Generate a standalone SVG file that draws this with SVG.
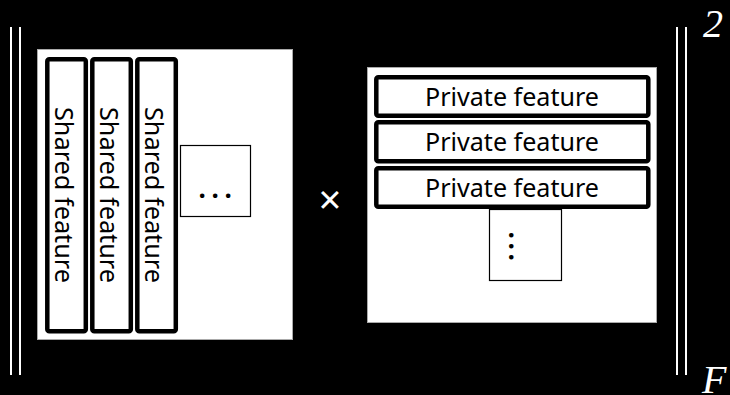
<svg xmlns="http://www.w3.org/2000/svg" width="730" height="395" viewBox="0 0 730 395">
  <style>
    .bar { stroke: #fff; stroke-width: 2; }
    .panel { fill: #fff; stroke: #aaa; stroke-width: 1; }
    .feat { fill: #fff; stroke: #000; stroke-width: 4.5; }
    .more { fill: #fff; stroke: #000; stroke-width: 1.2; }
    .lbl { font-family: "Noto Sans", "Open Sans", sans-serif; font-size: 25px; fill: #000; }
    .dots { font-family: "Noto Sans", sans-serif; font-size: 26px; font-weight: bold; fill: #000; }
    .math { font-family: "Liberation Serif", serif; font-style: italic; font-size: 40px; fill: #fff; }
  </style>
  <rect width="730" height="395" fill="#000"/>

  <!-- norm bars -->
  <g id="norm-left">
    <line class="bar" x1="11" y1="27" x2="11" y2="375"/>
    <line class="bar" x1="20" y1="27" x2="20" y2="375"/>
  </g>
  <g id="norm-right">
    <line class="bar" x1="677" y1="27" x2="677" y2="375"/>
    <line class="bar" x1="686" y1="27" x2="686" y2="375"/>
  </g>
  <text id="exp" class="math" x="703" y="37">2</text>
  <text id="sub" class="math" x="702" y="393">F</text>

  <!-- shared features matrix -->
  <g id="shared-matrix">
    <rect class="panel" x="37.5" y="49.5" width="255" height="290"/>
    <g id="shared-1">
      <rect class="feat" x="47.3" y="59.3" width="38.5" height="272" rx="2"/>
      <text class="lbl" transform="translate(55,195) rotate(90)" text-anchor="middle" textLength="176" lengthAdjust="spacingAndGlyphs">Shared feature</text>
    </g>
    <g id="shared-2">
      <rect class="feat" x="92.3" y="59.3" width="38.5" height="272" rx="2"/>
      <text class="lbl" transform="translate(100,195) rotate(90)" text-anchor="middle" textLength="176" lengthAdjust="spacingAndGlyphs">Shared feature</text>
    </g>
    <g id="shared-3">
      <rect class="feat" x="137.3" y="59.3" width="38.5" height="272" rx="2"/>
      <text class="lbl" transform="translate(145,195) rotate(90)" text-anchor="middle" textLength="176" lengthAdjust="spacingAndGlyphs">Shared feature</text>
    </g>
    <g id="shared-more">
      <rect class="more" x="180.5" y="145.5" width="70" height="71"/>
      <text class="dots" x="198.5 211.5 224.5" y="197.5">...</text>
    </g>
  </g>

  <text id="times" x="330" y="214" text-anchor="middle" font-family="Noto Sans, sans-serif" font-size="40" fill="#fff">×</text>

  <!-- private features matrix -->
  <g id="private-matrix">
    <rect class="panel" x="367.5" y="67.5" width="289" height="255"/>
    <g id="private-1">
      <rect class="feat" x="376.3" y="77.3" width="272" height="38.5" rx="2"/>
      <text class="lbl" x="512" y="106" text-anchor="middle" textLength="174" lengthAdjust="spacingAndGlyphs">Private feature</text>
    </g>
    <g id="private-2">
      <rect class="feat" x="376.3" y="122.3" width="272" height="39" rx="2"/>
      <text class="lbl" x="512" y="151" text-anchor="middle" textLength="174" lengthAdjust="spacingAndGlyphs">Private feature</text>
    </g>
    <g id="private-3">
      <rect class="feat" x="376.3" y="168.3" width="272" height="38.5" rx="2"/>
      <text class="lbl" x="512" y="197" text-anchor="middle" textLength="174" lengthAdjust="spacingAndGlyphs">Private feature</text>
    </g>
    <g id="private-more">
      <rect class="more" x="489.5" y="209.5" width="72" height="71"/>
      <text class="dots" transform="translate(508.8,0) rotate(90)" x="231.5 242.5 253.5" y="0">...</text>
    </g>
  </g>
</svg>
